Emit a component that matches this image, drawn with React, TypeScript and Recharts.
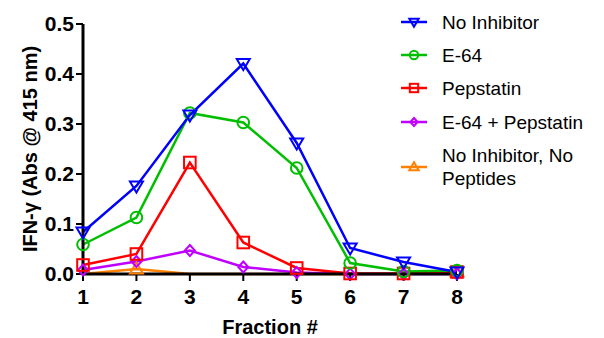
import { Label, Line, LineChart, XAxis, YAxis } from "recharts";

// Fractions collected off the column, IFN-γ readout per condition.
const fractions = [1, 2, 3, 4, 5, 6, 7, 8];
const noInhibitor = [0.084, 0.176, 0.318, 0.421, 0.262, 0.052, 0.024, 0.004];
const e64 = [0.059, 0.113, 0.322, 0.303, 0.212, 0.022, 0.005, 0.007];
const pepstatin = [0.018, 0.04, 0.223, 0.063, 0.012, 0.001, 0.001, 0.004];
const e64Pepstatin = [0.008, 0.025, 0.047, 0.014, 0.003, 0.0, 0.0, 0.0];
const noInhNoPep = [0.0, 0.01, 0.0, 0.0, 0.0, 0.0, 0.0, 0.004];
const yTicks = [0, 0.1, 0.2, 0.3, 0.4, 0.5];

type Shape = "down" | "circle" | "square" | "diamond" | "up";

const SERIES: { key: string; name: string[]; color: string; shape: Shape; values: number[] }[] = [
  { key: "noInhibitor", name: ["No Inhibitor"], color: "#0000ff", shape: "down", values: noInhibitor },
  { key: "e64", name: ["E-64"], color: "#00bf00", shape: "circle", values: e64 },
  { key: "pepstatin", name: ["Pepstatin"], color: "#ff0000", shape: "square", values: pepstatin },
  { key: "e64Pepstatin", name: ["E-64 + Pepstatin"], color: "#c000ff", shape: "diamond", values: e64Pepstatin },
  { key: "noInhNoPep", name: ["No Inhibitor, No", "Peptides"], color: "#ff8000", shape: "up", values: noInhNoPep },
];

const rows = fractions.map((f, i) => {
  const r: Record<string, number> = { fraction: f };
  SERIES.forEach((s) => (r[s.key] = s.values[i]));
  return r;
});

const FONT = "'Liberation Sans', Arial, sans-serif";
const SW = 2.5;

function Marker({ cx, cy, shape, color, k = 1 }: { cx: number; cy: number; shape: Shape; color: string; k?: number }) {
  const p = { fill: "none", stroke: color, strokeWidth: 2 };
  const a = 6.5 * k, b = 4.5 * k, r = 5.8 * k, dy = 5.5 * k, dx = 5 * k;
  switch (shape) {
    case "down":
      return <polygon {...p} points={`${cx - a},${cy - b} ${cx + a},${cy - b} ${cx},${cy + a}`} />;
    case "up":
      return <polygon {...p} points={`${cx - a},${cy + b} ${cx + a},${cy + b} ${cx},${cy - a}`} />;
    case "circle":
      return <circle {...p} cx={cx} cy={cy} r={r} />;
    case "square":
      return <rect {...p} x={cx - r} y={cy - r} width={2 * r} height={2 * r} />;
    default:
      return <polygon {...p} points={`${cx},${cy - dy} ${cx + dx},${cy} ${cx},${cy + dy} ${cx - dx},${cy}`} />;
  }
}

const LEGEND_TOP = [22, 55, 88, 122, 167];

function LegendBox() {
  return (
    <div style={{ position: "absolute", left: 400, top: 0, width: 204, height: 190, fontFamily: FONT, fontSize: 19, color: "#000" }}>
      {SERIES.map((s, i) => (
        <div key={s.key} style={{ position: "absolute", left: 0, top: LEGEND_TOP[i] - 24, height: 48, display: "flex", alignItems: "center" }}>
          <svg width={28} height={24} style={{ flex: "none" }}>
            <line x1={1} x2={27} y1={12} y2={12} stroke={s.color} strokeWidth={SW} />
            <Marker cx={14} cy={12} shape={s.shape} color={s.color} k={0.72} />
          </svg>
          <div style={{ marginLeft: 14, lineHeight: "23px", whiteSpace: "nowrap" }}>
            {s.name.map((n) => (
              <div key={n}>{n}</div>
            ))}
          </div>
        </div>
      ))}
    </div>
  );
}

export default function App() {
  const tick = { fontSize: 21, fontWeight: 700, fill: "#000", fontFamily: FONT };
  return (
    <div style={{ position: "absolute", left: 0, top: 0, width: 604, height: 338, background: "#fff" }}>
      <LineChart width={604} height={338} data={rows} margin={{ top: 24, right: 147, bottom: 0, left: 0 }}>
        {[...SERIES].reverse().map((s) => (
          <Line
            key={s.key}
            dataKey={s.key}
            stroke={s.color}
            strokeWidth={SW}
            isAnimationActive={false}
            activeDot={false}
            dot={(d: any) =>
              s.key === "noInhNoPep" && d.value === 0 ? (
                <g key={d.index} />
              ) : (
                <Marker key={d.index} cx={d.cx} cy={d.cy} shape={s.shape} color={s.color} />
              )
            }
          />
        ))}
        <XAxis
          dataKey="fraction"
          type="number"
          domain={[1, 8]}
          ticks={fractions}
          height={64}
          axisLine={{ stroke: "#000", strokeWidth: 3 }}
          tickLine={{ stroke: "#000", strokeWidth: 2 }}
          tickSize={7}
          tickMargin={8}
          tick={tick}
        >
          <Label
            content={() => (
              <text x={270} y={334} textAnchor="middle" fontFamily={FONT} fontSize={20} fontWeight={700} fill="#000">
                Fraction #
              </text>
            )}
          />
        </XAxis>
        <YAxis
          type="number"
          domain={[0, 0.5]}
          ticks={yTicks}
          width={83}
          axisLine={{ stroke: "#000", strokeWidth: 3 }}
          tickLine={{ stroke: "#000", strokeWidth: 2 }}
          tickSize={7}
          tickMargin={2}
          tick={tick}
          tickFormatter={(v) => (v as number).toFixed(1)}
        >
          <Label
            content={() => (
              <text
                x={0}
                y={0}
                transform="translate(37,149) rotate(-90)"
                textAnchor="middle"
                fontFamily={FONT}
                fontSize={20}
                fontWeight={700}
                fill="#000"
              >
                IFN-γ (Abs @ 415 nm)
              </text>
            )}
          />
        </YAxis>
      </LineChart>
      <LegendBox />
    </div>
  );
}
